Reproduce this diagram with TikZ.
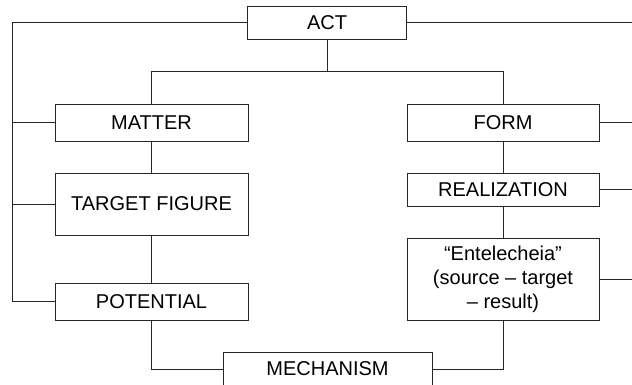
\documentclass[tikz,border=0pt]{standalone}
\usepackage{fontspec}
\setmainfont{Liberation Sans}
\begin{document}
\begin{tikzpicture}[x=1pt,y=-1pt,
  box/.style={draw=black!85,line width=0.9pt,inner sep=0pt,align=center,
    font=\fontsize{20}{24}\selectfont,text=black},
  conn/.style={draw=black!85,line width=0.9pt}]
\useasboundingbox (0,0) rectangle (632,385);
\node[box,minimum width=159,minimum height=33] (act) at (327,22.5) {ACT};
\node[box,minimum width=193,minimum height=37] (matter) at (151.5,122.5) {MATTER};
\node[box,minimum width=193,minimum height=62] (target) at (151.5,204) {TARGET FIGURE};
\node[box,minimum width=193,minimum height=37] (potential) at (151.5,301.5) {POTENTIAL};
\node[box,minimum width=192,minimum height=37] (form) at (503,122.5) {FORM};
\node[box,minimum width=192,minimum height=33] (real) at (503,189.5) {REALIZATION};
\node[box,minimum width=192,minimum height=82] (ent) at (503,279) {``Entelecheia''\\(source -- target\\-- result)};
\node[box,minimum width=209,minimum height=34] (mech) at (327.5,369) {MECHANISM};
\coordinate (tl) at (12,22.5);
\coordinate (bl) at (12,301.5);
\coordinate (split) at (327,71.5);
\coordinate (r0) at (632,22.5);
\coordinate (r1) at (632,122.5);
\coordinate (r2) at (632,189.5);
\coordinate (r3) at (632,279);
\draw[conn] (act.west) -- (tl) -- (bl) -- (potential.west);
\draw[conn] (matter.west -| tl) -- (matter.west);
\draw[conn] (target.west -| tl) -- (target.west);
\draw[conn] (act.east) -- (r0);
\draw[conn] (form.east) -- (r1);
\draw[conn] (real.east) -- (r2);
\draw[conn] (ent.east) -- (r3);
\draw[conn] (act.south) -- (split);
\draw[conn] (matter.north) |- (split) -| (form.north);
\draw[conn] (matter.south) -- (target.north);
\draw[conn] (target.south) -- (potential.north);
\draw[conn] (form.south) -- (real.north);
\draw[conn] (real.south) -- (ent.north);
\draw[conn] (potential.south) |- (mech.west);
\draw[conn] (ent.south) |- (mech.east);
\end{tikzpicture}
\end{document}
